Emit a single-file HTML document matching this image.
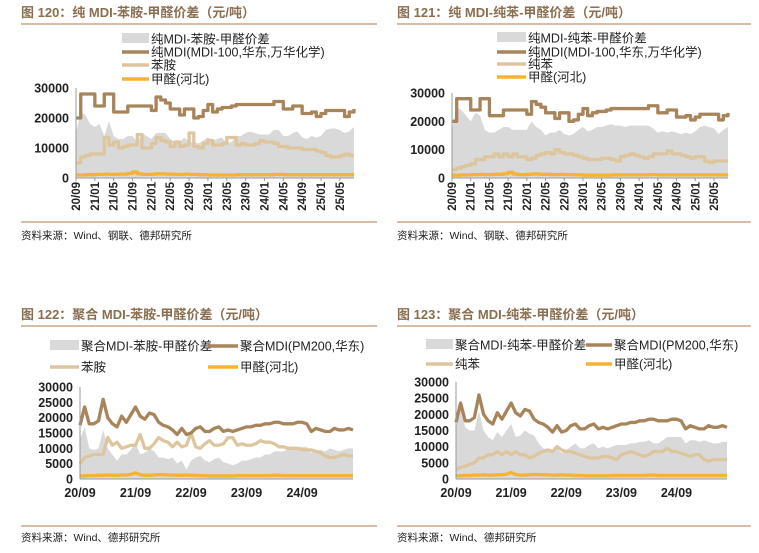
<!DOCTYPE html>
<html><head><meta charset="utf-8">
<style>
html,body{margin:0;padding:0;background:#fff;}
svg{display:block;font-family:"Liberation Sans","Noto Sans CJK SC",sans-serif;}
</style></head>
<body>
<svg id="s" width="759" height="553" viewBox="0 0 759 553" xmlns="http://www.w3.org/2000/svg">
<g fill="#8b6e50" font-size="13" font-weight="bold">
<text x="21" y="17">图 120：纯 MDI-苯胺-甲醛价差（元/吨）</text>
<text x="397" y="17">图 121：纯 MDI-纯苯-甲醛价差（元/吨）</text>
<text x="21" y="319">图 122：聚合 MDI-苯胺-甲醛价差（元/吨）</text>
<text x="397" y="319">图 123：聚合 MDI-纯苯-甲醛价差（元/吨）</text>
</g>
<g stroke="#c8a888" stroke-width="1.5">
<line x1="21" y1="24" x2="377" y2="24"/>
<line x1="397" y1="24" x2="751" y2="24"/>
<line x1="21" y1="222" x2="377" y2="222"/>
<line x1="397" y1="222" x2="751" y2="222"/>
<line x1="21" y1="326" x2="377" y2="326"/>
<line x1="397" y1="326" x2="751" y2="326"/>
<line x1="21" y1="526" x2="377" y2="526"/>
<line x1="397" y1="526" x2="751" y2="526"/>
</g>
<g fill="#222" font-size="10.5">
<text x="21" y="239">资料来源：Wind、钢联、德邦研究所</text>
<text x="397" y="239">资料来源：Wind、钢联、德邦研究所</text>
<text x="21" y="541">资料来源：Wind、德邦研究所</text>
<text x="397" y="541">资料来源：Wind、德邦研究所</text>
</g>
</svg>
<script>
const pureMDI=[20000,28000,28000,28000,24000,24000,28000,28000,22000,22000,22000,24000,24000,24000,24000,24000,22500,27000,26000,25000,23000,23000,21000,23000,23000,20000,20500,22500,24500,22000,23000,23500,23500,24000,24500,24500,24500,24500,24500,24500,24500,24500,25500,25500,23000,23000,24000,24000,21500,21500,22000,20500,21500,22500,22500,22500,22500,20500,22000,23000];
const polyMDI=[17500,23500,18000,18000,19000,26000,20000,18000,17000,20500,18500,21000,23500,20500,19500,21500,21000,18500,17500,17000,16000,14500,16500,14500,15000,16500,17000,15500,15500,16500,17000,15500,16000,15500,16000,16500,17000,17000,17500,17500,18000,18000,18500,18500,18000,18000,18000,18500,18500,18000,15500,16500,16000,15500,15500,16500,16000,16000,16500,16000];
const aniline=[5000,7000,7500,8000,8000,8000,13500,11000,12000,10000,10500,11000,11000,14500,10000,10000,11500,13500,12500,12000,10500,12000,10500,11000,15000,10500,10000,11500,12500,11000,11000,11500,13500,13500,11000,11500,11000,11000,11500,12500,12000,12000,11500,10500,10500,10000,10000,10000,9500,9500,9500,9000,8500,7500,7000,7000,7500,8000,7500,7500];
const benzene=[3000,3500,4000,4500,5000,6500,6500,7500,7500,8500,7500,8500,7500,8500,7500,7500,6500,7000,8000,8500,9000,8500,10000,9000,8500,8500,8000,7500,7000,6500,6500,6500,7000,7000,6500,6000,7500,8000,8500,8000,7500,7000,7500,8500,8500,8500,9500,8500,8500,8000,7500,7000,7500,7500,6000,5500,6000,6000,6000,6000];
const formaldehyde=[1000,1000,1100,1100,1200,1200,1300,1200,1200,1300,1300,1500,2000,1400,1200,1200,1300,1400,1400,1300,1300,1200,1200,1300,1200,1200,1100,1100,1000,1000,1000,1000,1000,1000,1100,1100,1100,1100,1100,1100,1100,1100,1200,1200,1100,1100,1100,1100,1100,1100,1100,1100,1100,1100,1100,1100,1100,1100,1100,1100];
const spread120=[15000,22000,21000,18000,17000,18000,14000,19000,14000,13000,13000,14000,14000,12000,15000,14000,13000,15000,15000,15000,13000,12000,12000,13500,12000,12000,11500,12500,13500,12500,13000,13500,11500,12000,14000,14000,15000,15500,15000,14500,14500,14500,16000,16000,14000,14000,15000,15500,13500,13000,14000,13500,14000,16000,16500,16500,16000,15000,15500,17000];
const spread121=[17000,25000,24000,22000,20000,23000,22000,17000,16000,16000,17000,18000,18000,17000,17000,17000,17000,20000,18000,17000,15000,16000,16000,17000,15500,15000,15500,17000,18000,16500,17000,18000,18000,18500,19000,18500,18500,18000,18500,18500,18500,18500,18500,17500,16000,16500,16000,16500,16000,15500,16000,15500,16500,18000,18500,18000,17500,15500,17000,18000];
const spread122=[13000,17000,10000,9500,10000,16000,10000,8000,6000,8000,8000,9500,12000,8000,8500,10000,9000,7000,7000,6500,7000,5000,6000,3000,6000,7000,7500,6000,5500,6500,7000,5500,5000,4500,5000,6000,6000,6500,7000,7000,8000,8000,9000,9000,9000,10000,10500,10500,10500,10500,8500,9500,9500,9000,10000,9500,9000,9500,10000,10000];
const spread123=[16000,22000,16000,15000,15000,21000,15000,13000,12000,14500,13000,15000,17000,13000,13500,15000,14000,13500,11000,9500,9000,8000,9500,8000,9000,10000,11000,9500,9500,10500,11000,9500,10000,9500,10000,10500,10500,10500,11000,11000,11500,11500,12000,11000,11000,12000,13000,13000,13000,13000,11000,12000,12000,11500,12000,11500,11000,11000,11500,11500];
const ticksA=[0,10000,20000,30000];
const ticksB=[0,5000,10000,15000,20000,25000,30000];
const xLabelsA=["20/09","21/01","21/05","21/09","22/01","22/05","22/09","23/01","23/05","23/09","24/01","24/05","24/09","25/01","25/05"];
const xLabelsB=["20/09","21/09","22/09","23/09","24/09"];

const NS="http://www.w3.org/2000/svg";
const svg=document.getElementById('s');
function mk(tag,attrs,parent){const e=document.createElementNS(NS,tag);for(const k in attrs)e.setAttribute(k,attrs[k]);(parent||svg).appendChild(e);return e;}
const C={spread:"#d9d9d9",mdi:"#a8845a",ani:"#ddc69e",form:"#f5b335"};

function panel(p){
  const g=mk('g',{});
  
  
  const n=p.mdi.length;
  const X=i=>p.x0+i*(p.x1-p.x0)/(n-1);
  const monthX=m=>p.x0+m*(p.x1-p.x0)/(n-1);
  const Y=v=>p.yb-v*(p.yb-p.yt)/30000;
  let d='M'+X(0)+','+Y(0);
  p.spread.forEach((v,i)=>{d+=' L'+X(i)+','+Y(v);});
  d+=' L'+X(n-1)+','+Y(0)+' Z';
  const a=mk('path',{d:d,fill:C.spread},g);
  
  
  const line=(arr,col,name)=>{
    const pts=arr.map((v,i)=>(p.step&&i>0?X(i)+','+Y(arr[i-1])+' ':'')+X(i)+','+Y(v)).join(' ');
    const l=mk('polyline',{points:pts,fill:'none',stroke:col,'stroke-width':3.3,'stroke-linejoin':'round'},g);
    
    
  };
  line(p.form,C.form,'formaldehyde-line');
  line(p.raw,C.ani,p.rawName+'-line');
  line(p.mdi,C.mdi,'mdi-line');
  const ya=mk('line',{x1:p.x0,y1:p.yt,x2:p.x0,y2:p.yb,stroke:'#999','stroke-width':1},g);
  
  
  const xa=mk('line',{x1:p.x0,y1:p.yb,x2:p.x1,y2:p.yb,stroke:'#999','stroke-width':1},g);
  
  
  p.ticks.forEach(t=>{
    const tx=mk('text',{x:p.x0-7,y:Y(t)+4.5,'text-anchor':'end','font-size':12.5,'font-weight':'bold',fill:'#222'},g);
    tx.textContent=t;
    
    
  });
  p.xl.forEach((t,k)=>{
    const xx=monthX(k*p.xstep);
    if(p.rot){
      const tk=mk('line',{x1:xx,y1:p.yb,x2:xx,y2:p.yb+3,stroke:'#999'},g);
      
      
      const tx=mk('text',{x:0,y:0,transform:'translate('+(xx+4)+','+(p.yb+4)+') rotate(-90)','text-anchor':'end','font-size':11.5,'font-weight':'bold',fill:'#222'},g);
      tx.textContent=t;
      
      
    }else{
      const tx=mk('text',{x:xx,y:p.yb+18,'text-anchor':'middle','font-size':12.5,'font-weight':'bold',fill:'#222'},g);
      tx.textContent=t;
      
      
    }
  });
  p.legend.forEach(L=>{
    const sw=L.area?mk('rect',{x:L.sx,y:L.y-6,width:L.sw,height:10,fill:C.spread},g):
      mk('line',{x1:L.sx,y1:L.y,x2:L.sx+L.sw,y2:L.y,stroke:L.c,'stroke-width':3.5},g);
    
    
    const tx=mk('text',{x:L.sx+L.sw+2,y:L.y+4.5,'font-size':12.5,fill:'#222'},g);
    tx.textContent=L.t;
    
    
  });
}
panel({id:'fig120',x0:76,x1:354,yt:88,yb:178,mdi:pureMDI,raw:aniline,rawName:'aniline',form:formaldehyde,spread:spread120,step:true,ticks:ticksA,xl:xLabelsA,xstep:4,rot:true,
 legend:[{area:1,sx:122,sw:27,y:39,t:'纯MDI-苯胺-甲醛价差'},{c:C.mdi,sx:122,sw:27,y:52,t:'纯MDI(MDI-100,华东,万华化学)'},{c:C.ani,sx:122,sw:27,y:65,t:'苯胺'},{c:C.form,sx:122,sw:27,y:79,t:'甲醛(河北)'}]});
panel({id:'fig121',x0:452,x1:728,yt:93,yb:178,mdi:pureMDI,raw:benzene,rawName:'benzene',form:formaldehyde,spread:spread121,step:true,ticks:ticksA,xl:xLabelsA,xstep:4,rot:true,
 legend:[{area:1,sx:497,sw:29,y:38,t:'纯MDI-纯苯-甲醛价差'},{c:C.mdi,sx:497,sw:29,y:52,t:'纯MDI(MDI-100,华东,万华化学)'},{c:C.ani,sx:497,sw:29,y:64,t:'纯苯'},{c:C.form,sx:497,sw:29,y:77,t:'甲醛(河北)'}]});
panel({id:'fig122',x0:80,x1:353,yt:387,yb:479,mdi:polyMDI,raw:aniline,rawName:'aniline',form:formaldehyde,spread:spread122,step:false,ticks:ticksB,xl:xLabelsB,xstep:12,rot:false,
 legend:[{area:1,sx:50,sw:29,y:346,t:'聚合MDI-苯胺-甲醛价差'},{c:C.mdi,sx:208,sw:30,y:346,t:'聚合MDI(PM200,华东)'},{c:C.ani,sx:50,sw:29,y:367,t:'苯胺'},{c:C.form,sx:208,sw:30,y:367,t:'甲醛(河北)'}]});
panel({id:'fig123',x0:456,x1:727,yt:382,yb:479,mdi:polyMDI,raw:benzene,rawName:'benzene',form:formaldehyde,spread:spread123,step:false,ticks:ticksB,xl:xLabelsB,xstep:12,rot:false,
 legend:[{area:1,sx:426,sw:27,y:345,t:'聚合MDI-纯苯-甲醛价差'},{c:C.mdi,sx:586,sw:26,y:345,t:'聚合MDI(PM200,华东)'},{c:C.ani,sx:426,sw:27,y:364,t:'纯苯'},{c:C.form,sx:586,sw:26,y:364,t:'甲醛(河北)'}]});
</script>
</body></html>
